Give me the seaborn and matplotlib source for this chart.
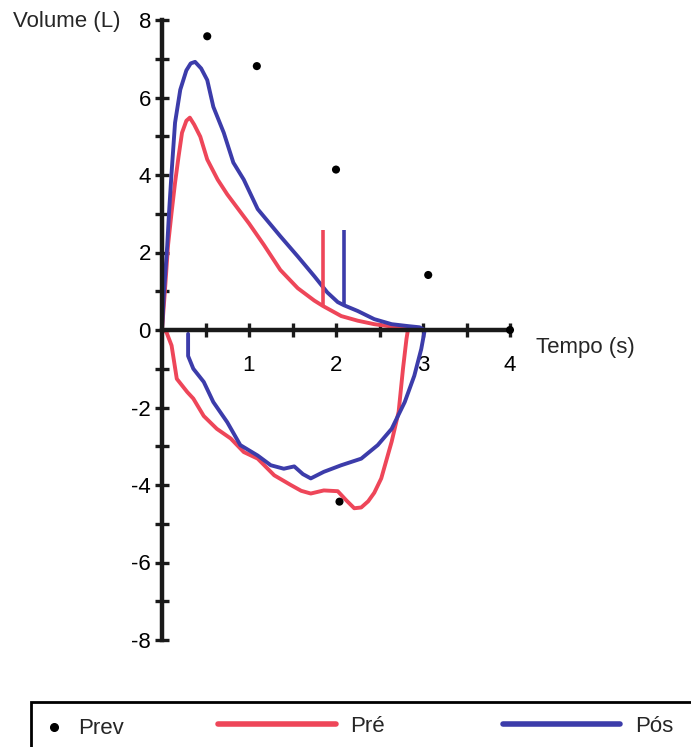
# Curva volume-tempo: Prev / Pré / Pós
import matplotlib
matplotlib.use('Agg')
import matplotlib.pyplot as plt
from matplotlib.lines import Line2D
from matplotlib.patches import Rectangle
import seaborn as sns

# Valores previstos (pontos pretos)
prev_t = [0.52, 1.09, 2.00, 3.06, 2.04, 4.0]
prev_v = [7.58, 6.81, 4.14, 1.42, -4.43, 0.0]

# Pré: curva de expiração (positiva) seguida da inspiração (negativa)
pre_t = [0, 0.03, 0.07, 0.11, 0.15, 0.19, 0.23, 0.28, 0.32, 0.37, 0.44, 0.52, 0.64,
         0.75, 0.90, 1.00, 1.17, 1.36, 1.56, 1.75, 1.85, 2.06, 2.25, 2.44, 2.64, 2.83,
         2.81, 2.77, 2.72, 2.64, 2.52, 2.44, 2.37, 2.29, 2.21, 2.12, 2.02, 1.86, 1.71,
         1.60, 1.48, 1.29, 1.10, 0.94, 0.79, 0.63, 0.48, 0.36, 0.29, 0.17, 0.11, 0.05, 0]
pre_v = [0, 0.9, 2.2, 3.03, 3.8, 4.47, 5.09, 5.4, 5.48, 5.3, 4.99, 4.4, 3.88,
         3.5, 3.05, 2.75, 2.2, 1.55, 1.08, 0.76, 0.62, 0.36, 0.24, 0.15, 0.09, 0.05,
         -0.23, -1.0, -2.11, -2.88, -3.83, -4.2, -4.42, -4.58, -4.6, -4.4, -4.16, -4.14, -4.22,
         -4.15, -4.0, -3.75, -3.32, -3.15, -2.8, -2.55, -2.22, -1.77, -1.6, -1.26, -0.4, -0.05, 0]

# Pós
pos_t = [0, 0.02, 0.06, 0.08, 0.11, 0.15, 0.21, 0.28, 0.33, 0.38, 0.45, 0.52, 0.59,
         0.71, 0.82, 0.94, 1.10, 1.36, 1.56, 1.75, 1.90, 2.02, 2.09, 2.25, 2.44, 2.64,
         2.83, 2.96, 3.02,
         2.98, 2.90, 2.79, 2.64, 2.48, 2.29, 2.06, 1.86, 1.71, 1.62, 1.52, 1.40, 1.25,
         1.10, 0.90, 0.75, 0.59, 0.48, 0.36, 0.30, 0.30]
pos_v = [0, 0.87, 2.17, 3.0, 4.06, 5.35, 6.2, 6.7, 6.88, 6.92, 6.75, 6.45, 5.76,
         5.09, 4.32, 3.88, 3.12, 2.42, 1.9, 1.39, 0.97, 0.72, 0.64, 0.49, 0.28, 0.15,
         0.1, 0.07, 0.0,
         -0.49, -1.18, -1.86, -2.55, -2.97, -3.32, -3.49, -3.66, -3.83, -3.72, -3.52, -3.58, -3.49,
         -3.24, -2.97, -2.38, -1.86, -1.34, -1.0, -0.67, -0.1]

# Marcas verticais (fim do primeiro segundo / FEV)
mark_t = [1.85, 2.09]
mark_lo = [0.62, 0.66]
mark_hi = [2.57, 2.57]

x_ticks = [0.5, 1, 1.5, 2, 2.5, 3, 3.5, 4]
x_labels = ['', '1', '', '2', '', '3', '', '4']
y_ticks = list(range(-8, 9))
y_labels = [str(v) if v % 2 == 0 else '' for v in y_ticks]

RED = '#EE4659'
BLUE = '#3C3CAA'
AXC = '#1a1a1a'
FS = 16

sns.set_style('white')
plt.rcParams['font.family'] = ['Liberation Sans', 'DejaVu Sans']

W, H = 691, 747
fig = plt.figure(figsize=(W / 100, H / 100), dpi=100)
ax = fig.add_axes([162 / W, (H - 640) / H, 348 / W, 620 / H])

sns.lineplot(x=pre_t, y=pre_v, sort=False, estimator=None, color=RED, lw=2.8,
             ax=ax, clip_on=False)
sns.lineplot(x=pos_t, y=pos_v, sort=False, estimator=None, color=BLUE, lw=2.8,
             ax=ax, clip_on=False)
ax.vlines(mark_t, mark_lo, mark_hi, colors=[RED, BLUE], lw=2.6)
sns.scatterplot(x=prev_t, y=prev_v, color='black', s=34, edgecolor='none',
                ax=ax, clip_on=False, legend=False, zorder=5)

ax.set_xlim(0, 4)
ax.set_ylim(-8, 8)
ax.set_xlabel('')
ax.set_ylabel('')

# eixos cruzando na origem
for side in ['top', 'right']:
    ax.spines[side].set_visible(False)
for side in ['left', 'bottom']:
    ax.spines[side].set_position(('data', 0))
    ax.spines[side].set_linewidth(3.2)
    ax.spines[side].set_color(AXC)

ax.set_xticks(x_ticks)
ax.set_xticklabels(x_labels)
ax.set_yticks(y_ticks)
ax.set_yticklabels(y_labels)
ax.tick_params(axis='both', direction='inout', length=10, width=2.4, color=AXC,
               labelsize=FS, labelcolor='black', bottom=True, left=True)
ax.tick_params(axis='x', pad=13)
ax.tick_params(axis='y', pad=3)

fig.text(13 / W, 1 - 22 / H, 'Volume (L)', fontsize=FS, ha='left', va='center')
ax.text(4.3, -0.45, 'Tempo (s)', fontsize=FS, ha='left', va='center', clip_on=False)

# legenda em caixa na parte de baixo
fig.add_artist(Rectangle((31 / W, -0.1), 1.0, 0.1 + (H - 702) / H,
                         transform=fig.transFigure, fill=False, lw=2, ec='black'))
dot_h = Line2D([], [], ls='none', marker='o', ms=5.5, color='black')
leg1 = fig.legend([dot_h], ['Prev'], loc='center left',
                  bbox_to_anchor=(42.6 / W, 1 - 729 / H), frameon=False,
                  handlelength=1.0, handletextpad=0.6, borderpad=0,
                  borderaxespad=0, fontsize=FS)
pre_h = Line2D([], [], color=RED, lw=4)
pos_h = Line2D([], [], color=BLUE, lw=4)
leg2 = fig.legend([pre_h, pos_h], ['Pré', 'Pós'], ncol=2, loc='center left',
                  bbox_to_anchor=(218 / W, 1 - 726 / H), frameon=False,
                  handlelength=5.3, handletextpad=0.65, columnspacing=5.3,
                  borderpad=0, borderaxespad=0, fontsize=FS)

fig.savefig('out.png', dpi=100)
